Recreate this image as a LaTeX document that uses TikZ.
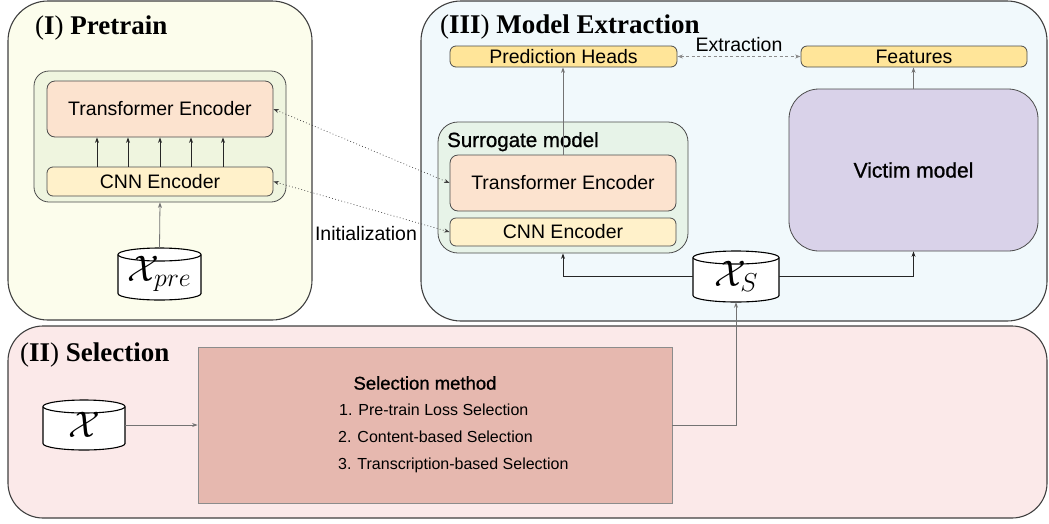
\RequirePackage{fix-cm}
\documentclass[tikz,border=0pt]{standalone}
\usepackage{fontspec}
\setmainfont{Liberation Sans}
\newfontfamily\titlefont{Liberation Serif}
\newfontfamily\medfont[FakeBold=0.9]{Liberation Sans}
\usetikzlibrary{arrows.meta,calc}
\definecolor{pretrainbg}{HTML}{FCFDEC}
\definecolor{greenbg}{HTML}{EFF5DF}
\definecolor{transbg}{HTML}{FCE3CF}
\definecolor{cnnbg}{HTML}{FFF1CA}
\definecolor{extractbg}{HTML}{F1F9FC}
\definecolor{headbg}{HTML}{FFE599}
\definecolor{surrbg}{HTML}{E7F3E8}
\definecolor{victimbg}{HTML}{D9D2E9}
\definecolor{selpanelbg}{HTML}{FBE9E9}
\definecolor{selboxbg}{HTML}{E6B8AF}
\newcommand{\mycyl}[6]{%
  \filldraw[cylline] ({#2-#4},{#3-#5+6.5}) -- ({#2-#4},{#3+#5-6.5})
    arc[start angle=180,end angle=360,x radius=#4pt,y radius=6.5pt]
    -- ({#2+#4},{#3-#5+6.5})
    arc[start angle=0,end angle=180,x radius=#4pt,y radius=6.5pt] -- cycle;
  \draw[cylline] ({#2-#4},{#3-#5+6.5}) arc[start angle=180,end angle=360,x radius=#4pt,y radius=6.5pt];
  \node[inner sep=0pt,minimum width={2*#4},minimum height={2*#5}] (#1) at (#2,#3) {\raisebox{-5pt}{#6}};
}
\begin{document}
\begin{tikzpicture}[x=1pt,y=-1pt,
  panel/.style={draw=black!75,line width=1.1pt,rounded corners=40pt,inner sep=0pt},
  box/.style={draw=black!70,line width=0.8pt,rounded corners=6pt,inner sep=0pt},
  txt/.style={font=\fontsize{19.5}{22}\selectfont},
  title/.style={font=\titlefont\fontsize{27}{30}\selectfont,anchor=base west,inner sep=0pt},
  cylline/.style={draw=black,fill=white,line width=1.1pt},
  arrg/.style={-{Stealth[length=5.5pt,width=4pt]},line width=0.8pt,draw=black!55},
  arrk/.style={-{Stealth[length=5.5pt,width=4pt]},line width=0.8pt,draw=black!85},
  dotarr/.style={{Stealth[length=5.5pt,width=4pt]}-{Stealth[length=5.5pt,width=4pt]},line width=0.7pt,draw=black!75,dash pattern=on 0.8pt off 2.4pt},
  dasharr/.style={{Stealth[length=5.5pt,width=4pt]}-{Stealth[length=5.5pt,width=4pt]},line width=0.9pt,draw=black!45,dash pattern=on 3pt off 2.5pt}
]
\useasboundingbox (0,0) rectangle (1049,523);
% panels
\node[panel,fill=pretrainbg,minimum width=304,minimum height=319] (ppre) at (160,160.5) {};
\node[panel,fill=extractbg,minimum width=626,minimum height=320] (pext) at (734,161) {};
\node[panel,fill=selpanelbg,rounded corners=35pt,minimum width=1039,minimum height=192] (psel) at (527.5,422) {};
% titles
\node[title] (tpre) at (35,34) {(\textbf{I}) \textbf{Pretrain}};
\node[title] (text) at (440,33) {(\textbf{III}) \textbf{Model Extraction}};
\node[title] (tsel) at (20,361) {(\textbf{II}) \textbf{Selection}};
% pretrain
\node[box,fill=greenbg,rounded corners=15pt,minimum width=252,minimum height=131] (lgreen) at (160,136.5) {};
\node[box,fill=transbg,rounded corners=8pt,minimum width=226,minimum height=56,txt] (ltrans) at (160,109) {Transformer Encoder};
\node[box,fill=cnnbg,minimum width=226,minimum height=29,txt] (lcnn) at (160,181.5) {CNN Encoder};
\foreach \xx in {97,128,160,191,223}
  \draw[arrk] (\xx,0 |- lcnn.north) -- (\xx,0 |- ltrans.south);
\mycyl{xpre}{159.5}{274}{41.5}{26}{\fontsize{37}{37}\selectfont$\mathcal{X}_{pre}$}
\draw[arrg] (xpre.north) -- (lgreen.south);
% model extraction
\node[box,fill=headbg,minimum width=227,minimum height=21,txt] (pred) at (563.5,56.5) {Prediction Heads};
\node[box,fill=headbg,minimum width=226,minimum height=21,txt] (feat) at (914,56.5) {Features};
\node[box,fill=surrbg,rounded corners=20pt,minimum width=250,minimum height=131] (surr) at (563,187.5) {};
\node[anchor=base west,inner sep=0pt,font=\medfont\fontsize{20.5}{22}\selectfont] (surrlbl) at (447,147) {Surrogate model};
\node[box,fill=transbg,rounded corners=8pt,minimum width=226,minimum height=56,txt] (strans) at (563,183) {Transformer Encoder};
\node[box,fill=cnnbg,minimum width=226,minimum height=28,txt] (scnn) at (563,232) {CNN Encoder};
\node[box,fill=victimbg,rounded corners=30pt,minimum width=249,minimum height=162,font=\medfont\fontsize{21}{24}\selectfont] (victim) at (913.5,170) {Victim model};
\draw[arrg] (strans.north) -- (strans.north |- pred.south);
\draw[arrg] (victim.north) -- (victim.north |- feat.south);
\draw[dasharr] (pred.east) -- (feat.west);
\node[txt,inner sep=0pt] (extlbl) at (739,45) {Extraction};
\mycyl{xs}{736}{276.5}{43}{25.5}{\fontsize{37}{37}\selectfont$\mathcal{X}_{S}$}
\draw[arrk] (xs.west) -| (surr.south);
\draw[arrk] (xs.east) -| (victim.south);
% initialization
\draw[dotarr] (ltrans.east) -- (strans.west);
\draw[dotarr] (lcnn.east) -- (scnn.west);
\node[txt,inner sep=0pt] (initlbl) at (366,234) {Initialization};
% selection
\node[draw=black!45,line width=0.8pt,fill=selboxbg,minimum width=474,minimum height=156,inner sep=0pt] (sel) at (435,425) {};
\node[font=\medfont\fontsize{18.5}{20}\selectfont,inner sep=0pt] (selhead) at (425,383) {Selection method};
\node[anchor=west,font=\fontsize{16}{18}\selectfont,inner sep=0pt] (sel1) at (339,410) {1. Pre-train Loss Selection};
\node[anchor=west,font=\fontsize{16}{18}\selectfont,inner sep=0pt] (sel2) at (338,437) {2. Content-based Selection};
\node[anchor=west,font=\fontsize{16}{18}\selectfont,inner sep=0pt] (sel3) at (338,465) {3. Transcription-based Selection};
\mycyl{xall}{84}{425}{41}{25}{\fontsize{37}{37}\selectfont$\mathcal{X}$}
\draw[arrg] (xall.east) -- (sel.west);
\draw[arrg] (sel.east) -| (xs.south);
\end{tikzpicture}
\end{document}
